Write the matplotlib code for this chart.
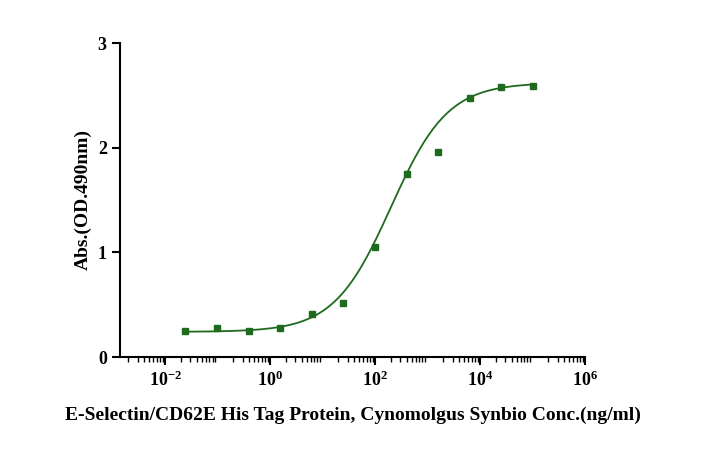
import numpy as np
import matplotlib
matplotlib.use("Agg")
import matplotlib.pyplot as plt
from matplotlib.ticker import LogLocator, NullFormatter

conc = [0.0244, 0.0977, 0.391, 1.5625, 6.25, 25.0, 100.0, 400.0, 1600.0, 6400, 25600, 102400]
absv = [0.25, 0.28, 0.25, 0.28, 0.41, 0.52, 1.05, 1.75, 1.96, 2.47, 2.58, 2.59]
fit_bottom, fit_top, fit_ec50, fit_hill = 0.24, 2.62, 200.0, 0.8

plt.rcParams["font.family"] = "Liberation Serif"
plt.rcParams["font.weight"] = "bold"
fig = plt.figure(figsize=(7.05, 4.55), dpi=100)
ax = fig.add_axes([120/705, 1-357/455, 465/705, 314/455])
green = "#1e6b1e"
xs = np.logspace(np.log10(conc[0]), np.log10(conc[-1]), 300)
ys = fit_bottom + (fit_top - fit_bottom) / (1 + (fit_ec50 / xs) ** fit_hill)
ax.plot(xs, ys, color=green, lw=1.3)
ax.plot(conc, absv, 's', color=green, ms=5)
ax.set_xscale("log")
ax.set_xlim(10**-2.86, 1e6)
ax.set_ylim(0, 3)
ax.set_xticks([1e-2, 1, 1e2, 1e4, 1e6])
ax.xaxis.set_minor_locator(LogLocator(base=10, subs=np.arange(2, 10), numticks=20))
ax.xaxis.set_minor_formatter(NullFormatter())
ax.set_yticks([0, 1, 2, 3])
for s in ["top", "right"]:
    ax.spines[s].set_visible(False)
for s in ["left", "bottom"]:
    ax.spines[s].set_linewidth(1.5)
ax.tick_params(which="major", width=1.5, length=6, labelsize=13)
ax.tick_params(which="minor", width=1, length=3.5)
ax.set_ylabel("Abs.(OD.490nm)", fontsize=14, fontweight="bold")
ax.set_xlabel("E-Selectin/CD62E His Tag Protein, Cynomolgus Synbio Conc.(ng/ml)", fontsize=14, fontweight="bold", labelpad=12)
fig.savefig("out.png", dpi=100)
